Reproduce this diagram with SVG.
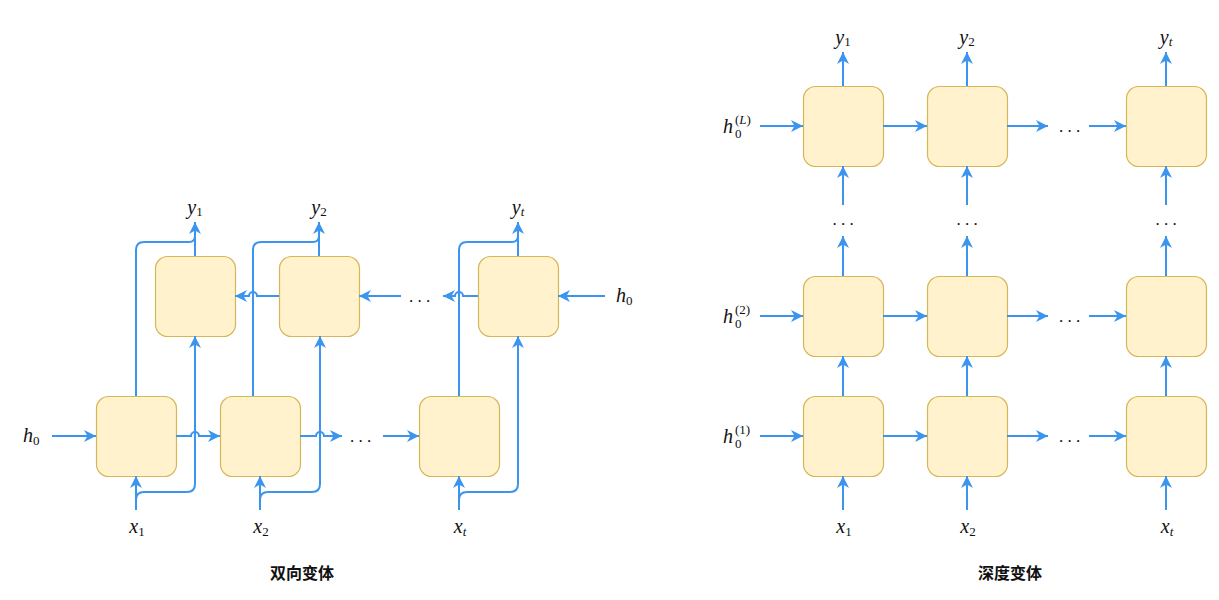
<svg xmlns="http://www.w3.org/2000/svg" width="1219" height="600" viewBox="0 0 1219 600">
<style>
.box{fill:#fff2cc;stroke:#d6b656;stroke-width:1.2}
.c{fill:none;stroke:#3b95ef;stroke-width:2}
.a{marker-end:url(#arr)}
.m{font-family:"Liberation Serif",serif;font-style:italic;font-size:20px;fill:#111}
.sub{font-style:normal;font-size:13px}
.it{font-style:italic}
.dots{font-family:"Liberation Serif",serif;font-size:17px;fill:#111}
.title{font-family:"Noto Sans CJK SC",sans-serif;font-size:16px;font-weight:bold;fill:#111}
</style>
<defs>
<marker id="arr" markerUnits="userSpaceOnUse" markerWidth="14" markerHeight="14" refX="12" refY="6" orient="auto">
<path d="M0,0 L12,6 L0,12 L3.5,6 Z" fill="#3b95ef"/>
</marker>
</defs>

<!-- Left: bidirectional -->
<g id="b1"><rect class="box" x="96.5" y="396.5" width="80" height="80" rx="12"/></g>
<g id="b2"><rect class="box" x="220.5" y="396.5" width="80" height="80" rx="12"/></g>
<g id="bt"><rect class="box" x="419.5" y="396.5" width="80" height="80" rx="12"/></g>
<g id="t1"><rect class="box" x="155.5" y="256.5" width="80" height="80" rx="12"/></g>
<g id="t2"><rect class="box" x="279.5" y="256.5" width="80" height="80" rx="12"/></g>
<g id="tt"><rect class="box" x="478.5" y="256.5" width="80" height="80" rx="12"/></g>

<g id="left-connectors">
<path class="c a" d="M52,436 H96"/>
<path class="c a" d="M176,436 H191 A4,4 0 0 1 199,436 H220"/>
<path class="c a" d="M300,436 H316 A4,4 0 0 1 324,436 H342"/>
<path class="c a" d="M383,436 H419"/>
<path class="c a" d="M605,296 H558"/>
<path class="c a" d="M478,296 H463 A4,4 0 0 0 455,296 H443"/>
<path class="c a" d="M401,296 H359"/>
<path class="c a" d="M279,296 H257 A4,4 0 0 0 249,296 H235"/>
<path class="c a" d="M136,510 V476"/>
<path class="c a" d="M260,510 V476"/>
<path class="c a" d="M459,510 V476"/>
<path class="c a" d="M136,500 Q136,492 144,492 H187 Q195,492 195,484 V336"/>
<path class="c a" d="M260,500 Q260,492 268,492 H312 Q320,492 320,484 V336"/>
<path class="c a" d="M459,500 Q459,492 467,492 H510 Q518,492 518,484 V336"/>
<path class="c" d="M136,396 V250 Q136,242 144,242 H189 Q195,242 195,236"/>
<path class="c" d="M253,396 V250 Q253,242 261,242 H313 Q319,242 319,236"/>
<path class="c" d="M459,396 V250 Q459,242 467,242 H512 Q518,242 518,236"/>
<path class="c a" d="M195,256 V222"/>
<path class="c a" d="M319,256 V222"/>
<path class="c a" d="M518,256 V222"/>
</g>

<g id="left-labels">
<text class="m" x="195" y="214" text-anchor="middle">y<tspan class="sub" dy="2">1</tspan></text>
<text class="m" x="319" y="214" text-anchor="middle">y<tspan class="sub" dy="2">2</tspan></text>
<text class="m" x="518" y="214" text-anchor="middle">y<tspan class="sub it" dy="2">t</tspan></text>
<text class="m" x="137" y="533" text-anchor="middle">x<tspan class="sub" dy="3">1</tspan></text>
<text class="m" x="261" y="533" text-anchor="middle">x<tspan class="sub" dy="3">2</tspan></text>
<text class="m" x="460" y="533" text-anchor="middle">x<tspan class="sub it" dy="3">t</tspan></text>
<text class="m" x="23" y="442">h<tspan class="sub" dy="3">0</tspan></text>
<text class="m" x="616" y="302">h<tspan class="sub" dy="3">0</tspan></text>
<text class="dots" x="350" y="442">. . .</text>
<text class="dots" x="409" y="302">. . .</text>
<text class="title" x="302" y="579" text-anchor="middle">双向变体</text>
</g>

<!-- Right: deep -->
<g id="d11"><rect class="box" x="803.5" y="86.5" width="80" height="80" rx="12"/></g>
<g id="d12"><rect class="box" x="927.5" y="86.5" width="80" height="80" rx="12"/></g>
<g id="d1t"><rect class="box" x="1126.5" y="86.5" width="80" height="80" rx="12"/></g>
<g id="d21"><rect class="box" x="803.5" y="276.5" width="80" height="80" rx="12"/></g>
<g id="d22"><rect class="box" x="927.5" y="276.5" width="80" height="80" rx="12"/></g>
<g id="d2t"><rect class="box" x="1126.5" y="276.5" width="80" height="80" rx="12"/></g>
<g id="d31"><rect class="box" x="803.5" y="396.5" width="80" height="80" rx="12"/></g>
<g id="d32"><rect class="box" x="927.5" y="396.5" width="80" height="80" rx="12"/></g>
<g id="d3t"><rect class="box" x="1126.5" y="396.5" width="80" height="80" rx="12"/></g>

<g id="right-connectors">
<path class="c a" d="M760,126 H803"/>
<path class="c a" d="M883,126 H927"/>
<path class="c a" d="M1007,126 H1048"/>
<path class="c a" d="M1089,126 H1126"/>
<path class="c a" d="M760,316 H803"/>
<path class="c a" d="M883,316 H927"/>
<path class="c a" d="M1007,316 H1048"/>
<path class="c a" d="M1089,316 H1126"/>
<path class="c a" d="M760,436 H803"/>
<path class="c a" d="M883,436 H927"/>
<path class="c a" d="M1007,436 H1048"/>
<path class="c a" d="M1089,436 H1126"/>
<path class="c a" d="M843,510 V476"/>
<path class="c a" d="M967,510 V476"/>
<path class="c a" d="M1166,510 V476"/>
<path class="c a" d="M843,396 V356"/>
<path class="c a" d="M967,396 V356"/>
<path class="c a" d="M1166,396 V356"/>
<path class="c a" d="M843,276 V236"/>
<path class="c a" d="M967,276 V236"/>
<path class="c a" d="M1166,276 V236"/>
<path class="c a" d="M843,205 V166"/>
<path class="c a" d="M967,205 V166"/>
<path class="c a" d="M1166,205 V166"/>
<path class="c a" d="M843,86 V52"/>
<path class="c a" d="M967,86 V52"/>
<path class="c a" d="M1166,86 V52"/>
</g>

<g id="right-labels">
<text class="m" x="843" y="44" text-anchor="middle">y<tspan class="sub" dy="2">1</tspan></text>
<text class="m" x="967" y="44" text-anchor="middle">y<tspan class="sub" dy="2">2</tspan></text>
<text class="m" x="1166" y="44" text-anchor="middle">y<tspan class="sub it" dy="2">t</tspan></text>
<text class="m" x="844" y="533" text-anchor="middle">x<tspan class="sub" dy="3">1</tspan></text>
<text class="m" x="968" y="533" text-anchor="middle">x<tspan class="sub" dy="3">2</tspan></text>
<text class="m" x="1167" y="533" text-anchor="middle">x<tspan class="sub it" dy="3">t</tspan></text>
<text class="m" x="723" y="133">h<tspan class="sub" x="735" y="138">0</tspan><tspan class="sub" x="735" y="124">(<tspan class="it">L</tspan>)</tspan></text>
<text class="m" x="723" y="323">h<tspan class="sub" x="735" y="328">0</tspan><tspan class="sub" x="735" y="314">(2)</tspan></text>
<text class="m" x="723" y="443">h<tspan class="sub" x="735" y="448">0</tspan><tspan class="sub" x="735" y="434">(1)</tspan></text>
<text class="dots" x="1059" y="132">. . .</text>
<text class="dots" x="1059" y="322">. . .</text>
<text class="dots" x="1059" y="442">. . .</text>
<text class="dots" x="843" y="225" text-anchor="middle">. . .</text>
<text class="dots" x="967" y="225" text-anchor="middle">. . .</text>
<text class="dots" x="1166" y="225" text-anchor="middle">. . .</text>
<text class="title" x="1010" y="579" text-anchor="middle">深度变体</text>
</g>
</svg>
